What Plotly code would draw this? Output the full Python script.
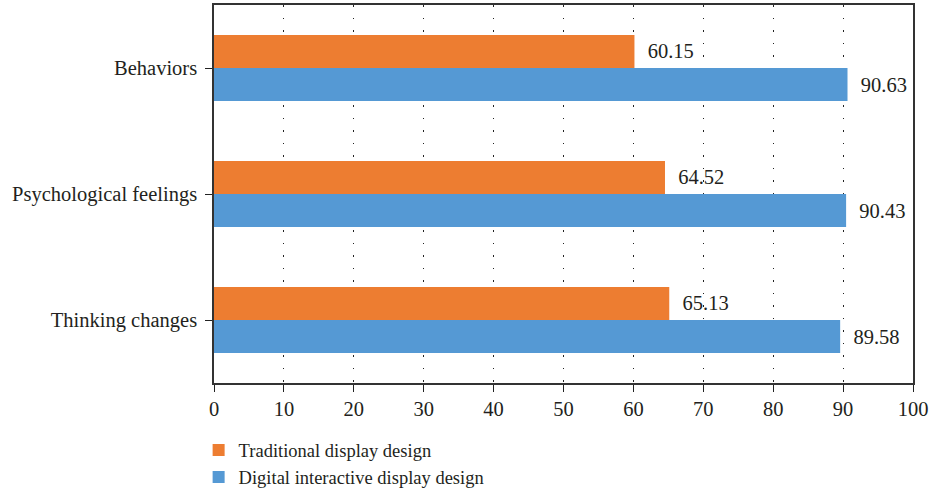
import plotly.graph_objects as go

categories = ["Thinking changes", "Psychological feelings", "Behaviors"]
traditional = [65.13, 64.52, 60.15]
digital = [89.58, 90.43, 90.63]
x_ticks = [0, 10, 20, 30, 40, 50, 60, 70, 80, 90, 100]

FONT = "Liberation Serif"
TXT = "#231f20"
FS = 20.5
NB = "\u00a0\u00a0"

fig = go.Figure()
fig.add_trace(go.Bar(
    y=categories, x=digital, orientation="h", name="Digital interactive display design",
    marker=dict(color="#5599D4", line=dict(width=0)),
    text=[f"{NB}{v:.2f}" for v in digital], textposition="outside",
    textfont=dict(family=FONT, size=FS, color=TXT), cliponaxis=False, legendrank=2,
))
fig.add_trace(go.Bar(
    y=categories, x=traditional, orientation="h", name="Traditional display design",
    marker=dict(color="#ED7D31", line=dict(width=0)),
    text=[f"{NB}{v:.2f}" for v in traditional], textposition="outside",
    textfont=dict(family=FONT, size=FS, color=TXT), cliponaxis=False, legendrank=1,
))

fig.update_layout(
    width=934, height=491,
    margin=dict(l=214, r=21, t=5, b=108, autoexpand=False),
    barmode="group", bargap=0.476, bargroupgap=0,
    plot_bgcolor="white", paper_bgcolor="white",
    font=dict(family=FONT, size=FS, color=TXT),
    showlegend=True,
    legend=dict(orientation="v", x=-0.022, y=-0.128, xanchor="left", yanchor="top",
                font=dict(family=FONT, size=18.5, color=TXT), tracegroupgap=0,
                bgcolor="rgba(0,0,0,0)"),
)
fig.update_xaxes(
    range=[0, 100], tickvals=x_ticks, ticks="outside", ticklen=7, tickcolor="#222",
    showline=True, linecolor="#333", linewidth=1.5, mirror=True,
    showgrid=True, gridcolor="#222", griddash="1.5px,11px", gridwidth=1.2,
    zeroline=False, tickfont=dict(family=FONT, size=FS, color=TXT),
)
fig.update_yaxes(
    type="category", categoryorder="array", categoryarray=categories,
    ticks="outside", ticklen=7, tickcolor="#222", ticklabelstandoff=4,
    showline=True, linecolor="#333", linewidth=1.5, mirror=True,
    showgrid=False, tickfont=dict(family=FONT, size=FS, color=TXT),
)

fig.write_html("out.html")
